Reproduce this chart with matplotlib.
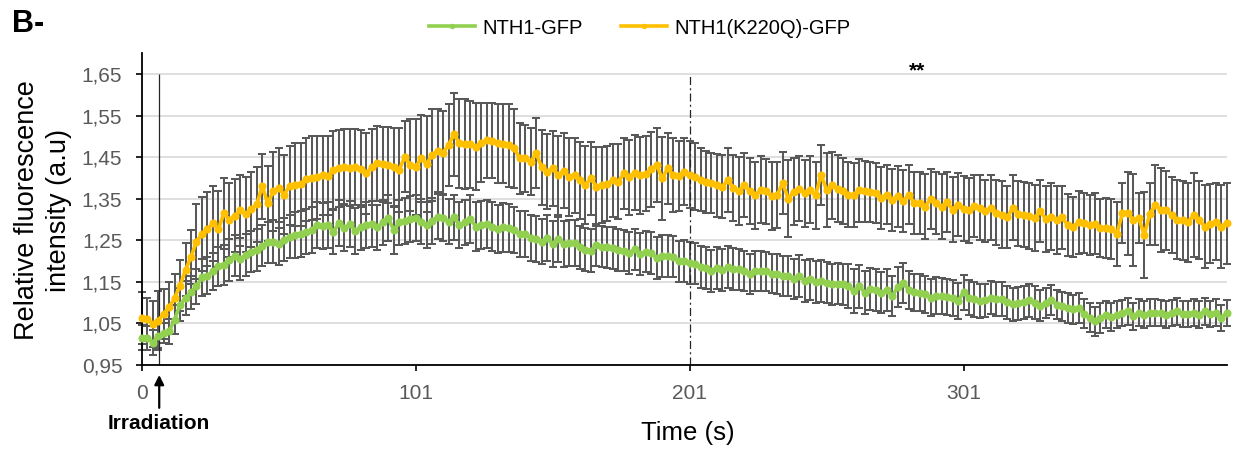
import matplotlib
matplotlib.use("Agg")
import matplotlib.pyplot as plt
import numpy as np

plt.rcParams['font.family'] = ['Liberation Sans', 'DejaVu Sans']

# ---------------- data ----------------
series_names = ["NTH1-GFP", "NTH1(K220Q)-GFP"]

nth1 = [
    1.016, 1.015, 1.004, 1.020, 1.027, 1.031, 1.059, 1.095, 1.111, 1.125,
    1.139, 1.161, 1.165, 1.175, 1.187, 1.191, 1.203, 1.213, 1.205, 1.215,
    1.223, 1.227, 1.237, 1.245, 1.247, 1.242, 1.251, 1.259, 1.263, 1.266,
    1.271, 1.275, 1.287, 1.285, 1.287, 1.271, 1.291, 1.279, 1.289, 1.273,
    1.281, 1.286, 1.290, 1.281, 1.293, 1.303, 1.275, 1.293, 1.297, 1.302,
    1.303, 1.295, 1.287, 1.297, 1.307, 1.304, 1.295, 1.305, 1.287, 1.293,
    1.301, 1.283, 1.287, 1.289, 1.283, 1.277, 1.281, 1.279, 1.275, 1.265,
    1.265, 1.255, 1.253, 1.247, 1.255, 1.241, 1.252, 1.241, 1.243, 1.243,
    1.233, 1.227, 1.225, 1.239, 1.235, 1.233, 1.231, 1.227, 1.225, 1.220,
    1.228, 1.217, 1.223, 1.220, 1.207, 1.212, 1.212, 1.211, 1.199, 1.200,
    1.196, 1.194, 1.186, 1.184, 1.176, 1.184, 1.178, 1.186, 1.181, 1.180,
    1.176, 1.168, 1.176, 1.176, 1.175, 1.170, 1.168, 1.164, 1.165, 1.156,
    1.164, 1.152, 1.156, 1.149, 1.152, 1.148, 1.144, 1.146, 1.144, 1.140,
    1.128, 1.139, 1.124, 1.133, 1.130, 1.124, 1.130, 1.116, 1.138, 1.148,
    1.130, 1.125, 1.124, 1.120, 1.112, 1.117, 1.116, 1.114, 1.112, 1.104,
    1.125, 1.112, 1.108, 1.104, 1.106, 1.112, 1.109, 1.109, 1.101, 1.096,
    1.098, 1.101, 1.106, 1.100, 1.093, 1.099, 1.107, 1.095, 1.091, 1.087,
    1.084, 1.087, 1.073, 1.064, 1.055, 1.063, 1.071, 1.065, 1.071, 1.075,
    1.079, 1.067, 1.076, 1.071, 1.076, 1.076, 1.075, 1.071, 1.075, 1.079,
    1.073, 1.073, 1.076, 1.071, 1.079, 1.073, 1.076, 1.063, 1.075,
]

nth1_err = [
    0.030, 0.028, 0.030, 0.030, 0.025, 0.030, 0.035, 0.040, 0.040, 0.040,
    0.042, 0.045, 0.045, 0.045, 0.048, 0.048, 0.050, 0.050, 0.050, 0.050,
    0.050, 0.050, 0.050, 0.050, 0.052, 0.052, 0.052, 0.052, 0.055, 0.055,
    0.055, 0.055, 0.055, 0.055, 0.055, 0.055, 0.055, 0.055, 0.055, 0.055,
    0.055, 0.055, 0.055, 0.055, 0.055, 0.055, 0.058, 0.055, 0.055, 0.055,
    0.055, 0.055, 0.055, 0.055, 0.055, 0.055, 0.055, 0.055, 0.055, 0.055,
    0.058, 0.058, 0.058, 0.058, 0.058, 0.058, 0.058, 0.058, 0.055, 0.055,
    0.055, 0.055, 0.055, 0.055, 0.055, 0.055, 0.055, 0.055, 0.055, 0.055,
    0.052, 0.052, 0.052, 0.050, 0.050, 0.050, 0.050, 0.050, 0.050, 0.050,
    0.050, 0.050, 0.050, 0.050, 0.050, 0.050, 0.050, 0.050, 0.050, 0.050,
    0.050, 0.050, 0.050, 0.050, 0.050, 0.050, 0.050, 0.050, 0.050, 0.050,
    0.048, 0.048, 0.048, 0.048, 0.048, 0.048, 0.048, 0.048, 0.048, 0.048,
    0.050, 0.050, 0.050, 0.050, 0.050, 0.050, 0.050, 0.050, 0.050, 0.052,
    0.052, 0.052, 0.052, 0.050, 0.050, 0.050, 0.050, 0.048, 0.048, 0.048,
    0.046, 0.045, 0.045, 0.045, 0.044, 0.044, 0.043, 0.043, 0.043, 0.043,
    0.042, 0.042, 0.042, 0.042, 0.040, 0.040, 0.040, 0.040, 0.040, 0.040,
    0.040, 0.040, 0.040, 0.040, 0.038, 0.036, 0.036, 0.035, 0.035, 0.035,
    0.035, 0.035, 0.035, 0.035, 0.035, 0.035, 0.033, 0.033, 0.033, 0.032,
    0.032, 0.032, 0.032, 0.032, 0.032, 0.032, 0.032, 0.032, 0.032, 0.032,
    0.032, 0.032, 0.032, 0.032, 0.032, 0.032, 0.032, 0.032, 0.032,
]

k220q = [
    1.063, 1.060, 1.049, 1.057, 1.073, 1.089, 1.111, 1.141, 1.179, 1.210,
    1.247, 1.265, 1.277, 1.291, 1.277, 1.315, 1.299, 1.309, 1.322, 1.313,
    1.325, 1.337, 1.380, 1.339, 1.368, 1.376, 1.360, 1.381, 1.384, 1.385,
    1.397, 1.400, 1.402, 1.407, 1.405, 1.418, 1.423, 1.427, 1.425, 1.426,
    1.422, 1.411, 1.426, 1.435, 1.433, 1.431, 1.426, 1.419, 1.451, 1.431,
    1.427, 1.447, 1.434, 1.455, 1.465, 1.461, 1.479, 1.505, 1.483, 1.482,
    1.481, 1.475, 1.485, 1.491, 1.490, 1.483, 1.482, 1.479, 1.471, 1.447,
    1.447, 1.439, 1.459, 1.426, 1.415, 1.423, 1.407, 1.417, 1.402, 1.406,
    1.394, 1.383, 1.399, 1.379, 1.383, 1.386, 1.394, 1.391, 1.411, 1.402,
    1.413, 1.406, 1.410, 1.421, 1.431, 1.399, 1.423, 1.407, 1.405, 1.415,
    1.408, 1.403, 1.396, 1.390, 1.388, 1.382, 1.379, 1.395, 1.376, 1.368,
    1.383, 1.368, 1.358, 1.372, 1.368, 1.356, 1.359, 1.388, 1.350, 1.367,
    1.374, 1.363, 1.372, 1.358, 1.408, 1.371, 1.382, 1.374, 1.368, 1.360,
    1.359, 1.370, 1.368, 1.366, 1.364, 1.352, 1.360, 1.347, 1.356, 1.344,
    1.360, 1.340, 1.339, 1.331, 1.350, 1.339, 1.331, 1.342, 1.324, 1.336,
    1.326, 1.322, 1.332, 1.328, 1.320, 1.328, 1.316, 1.312, 1.306, 1.328,
    1.314, 1.312, 1.308, 1.304, 1.320, 1.301, 1.307, 1.299, 1.305, 1.287,
    1.283, 1.293, 1.291, 1.287, 1.290, 1.279, 1.279, 1.277, 1.266, 1.315,
    1.315, 1.299, 1.303, 1.263, 1.314, 1.335, 1.323, 1.322, 1.311, 1.299,
    1.298, 1.293, 1.311, 1.299, 1.283, 1.290, 1.295, 1.283, 1.291,
]

k220q_err = [
    0.062, 0.052, 0.055, 0.070, 0.060, 0.060, 0.058, 0.062, 0.064, 0.065,
    0.090, 0.088, 0.088, 0.090, 0.092, 0.086, 0.090, 0.088, 0.085, 0.090,
    0.090, 0.090, 0.078, 0.090, 0.095, 0.097, 0.095, 0.095, 0.100, 0.100,
    0.100, 0.100, 0.100, 0.095, 0.095, 0.095, 0.093, 0.090, 0.092, 0.092,
    0.093, 0.098, 0.092, 0.090, 0.090, 0.092, 0.095, 0.100, 0.085, 0.110,
    0.115, 0.105, 0.115, 0.110, 0.100, 0.100, 0.098, 0.100, 0.107, 0.108,
    0.105, 0.105, 0.095, 0.090, 0.090, 0.095, 0.095, 0.100, 0.095, 0.085,
    0.080, 0.080, 0.084, 0.090, 0.090, 0.090, 0.095, 0.090, 0.093, 0.090,
    0.092, 0.095, 0.088, 0.095, 0.092, 0.090, 0.088, 0.090, 0.085, 0.090,
    0.090, 0.092, 0.090, 0.090, 0.090, 0.100, 0.085, 0.088, 0.085, 0.080,
    0.080, 0.080, 0.075, 0.075, 0.072, 0.075, 0.075, 0.077, 0.080, 0.082,
    0.078, 0.080, 0.080, 0.080, 0.078, 0.082, 0.080, 0.074, 0.092, 0.080,
    0.078, 0.080, 0.080, 0.080, 0.072, 0.090, 0.080, 0.080, 0.080, 0.078,
    0.078, 0.075, 0.073, 0.072, 0.072, 0.075, 0.070, 0.075, 0.073, 0.075,
    0.072, 0.075, 0.075, 0.078, 0.072, 0.075, 0.078, 0.073, 0.078, 0.075,
    0.078, 0.078, 0.075, 0.078, 0.075, 0.078, 0.078, 0.080, 0.075, 0.078,
    0.078, 0.078, 0.080, 0.080, 0.075, 0.080, 0.080, 0.082, 0.075, 0.075,
    0.072, 0.075, 0.072, 0.072, 0.073, 0.070, 0.072, 0.072, 0.077, 0.072,
    0.100, 0.110, 0.060, 0.104, 0.075, 0.097, 0.100, 0.095, 0.092, 0.095,
    0.095, 0.095, 0.100, 0.093, 0.100, 0.095, 0.093, 0.100, 0.098,
]

tick_positions = [0, 50, 100, 150]
tick_labels = ["0", "101", "201", "301"]
y_ticks = [0.95, 1.05, 1.15, 1.25, 1.35, 1.45, 1.55, 1.65]

green = "#92D050"
orange = "#FFC000"
err_gray = "#595959"
text_gray = "#595959"

# ---------------- figure ----------------
W, H = 1240, 459
fig = plt.figure(figsize=(W / 100, H / 100), dpi=100)
left_px, right_px, top_px, bottom_px = 141.7, 1226.5, 53, 365
ax = fig.add_axes([left_px / W, 1 - bottom_px / H,
                   (right_px - left_px) / W, (bottom_px - top_px) / H])

x = np.arange(len(nth1))
ax.set_xlim(0, len(nth1) - 1)
ax.set_ylim(0.95, 0.95 + (bottom_px - top_px) / 415.7)

for vals, errs in ((nth1, nth1_err), (k220q, k220q_err)):
    cont = ax.errorbar(x, vals, yerr=errs, fmt='none', ecolor=err_gray,
                       elinewidth=1.45, capsize=3.0, capthick=1.45, zorder=2)
    for art in cont.get_children():
        art.set_clip_on(False)

l1, = ax.plot(x, nth1, color=green, lw=2.6, marker='o', ms=4.8,
              zorder=3, clip_on=False, label=series_names[0])
l2, = ax.plot(x, k220q, color=orange, lw=2.6, marker='o', ms=4.8,
              zorder=3, clip_on=False, label=series_names[1])

# reference vertical lines
irradiation_x = 3.2
ax.vlines(irradiation_x, 0.95, 1.65, color='#262626', lw=0.9, zorder=2.5)
ax.vlines(100, 0.95, 1.65, color='#262626', lw=0.9, zorder=2.5,
          linestyles=[(0, (6.4, 2.6, 1.6, 2.6))])

# axes styling
ax.set_yticks(y_ticks)
ax.set_yticklabels([f"{v:.2f}".replace('.', ',') for v in y_ticks])
ax.set_xticks(tick_positions)
ax.set_xticklabels(tick_labels)
ax.yaxis.grid(True, color='#D9D9D9', lw=1.2)
ax.set_axisbelow(True)
for s in ('top', 'right'):
    ax.spines[s].set_visible(False)
for s in ('left', 'bottom'):
    ax.spines[s].set_color('black')
    ax.spines[s].set_linewidth(1.3)
ax.tick_params(axis='both', direction='out', length=4, width=1.2,
               colors='black', labelcolor=text_gray, labelsize=15)
ax.tick_params(axis='y', pad=10)
ax.tick_params(axis='x', pad=10)

ax.set_xlabel("Time (s)", fontsize=18.5, color='black')
ax.xaxis.set_label_coords((688 - left_px) / (right_px - left_px),
                          (bottom_px - 421) / (bottom_px - top_px))
ax.xaxis.label.set_va('top')

ax.set_ylabel("Relative fluorescence\nintensity (a.u)", fontsize=19.5,
              color='black', linespacing=1.3)
ax.yaxis.set_label_coords((72 - left_px) / (right_px - left_px),
                          (bottom_px - 210) / (bottom_px - top_px))

# significance mark
ax.text(141.5, 1.645, "**", ha='center', va='baseline', fontsize=15,
        fontweight='bold', color='black')

# irradiation arrow + label
ax.annotate("", xy=(irradiation_x, 0.926), xytext=(irradiation_x, 0.847),
            xycoords='data', annotation_clip=False,
            arrowprops=dict(arrowstyle='-|>', color='black', lw=1.6,
                            mutation_scale=14, shrinkA=0, shrinkB=0))
ax.text(irradiation_x, 0.810, "Irradiation", ha='center', va='center',
        fontsize=15, fontweight='bold', color='black', clip_on=False)

# panel letter
fig.text(12 / W, 1 - 32 / H, "B-", fontsize=22, fontweight='bold',
         ha='left', va='baseline')

# legend
fig.legend(handles=[l1, l2], loc='center', bbox_to_anchor=(0.516, 1 - 28 / H),
           ncol=2, frameon=False, fontsize=14.5, handlelength=2.3,
           handletextpad=0.35, columnspacing=1.9, markerscale=0.6)

fig.savefig("out.png", dpi=100)
